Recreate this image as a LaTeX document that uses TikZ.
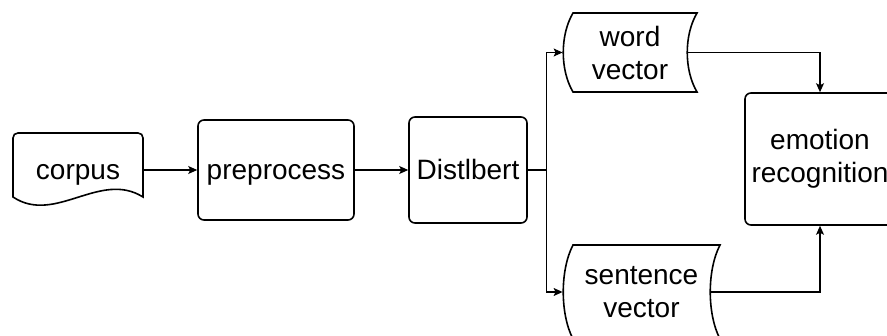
\documentclass[tikz,border=0pt]{standalone}
\usepackage{fontspec}
\setmainfont{Liberation Sans}
\usetikzlibrary{arrows.meta}

\tikzset{
	block/.style = {draw, thick, rounded corners=3pt, inner sep=0pt, align=center},
	plain/.style = {inner sep=0pt, align=center},
	oneline/.style = {text height=10pt, text depth=0pt},
	outline/.style = {draw, thick},
	link/.style = {-{Stealth[length=4.5pt,width=4pt,inset=1pt]}, line width=0.6pt},
}

\begin{document}
\begin{tikzpicture}[x=0.5pt, y=-0.5pt, font=\fontsize{14}{16.5}\selectfont]
			\useasboundingbox (0,0) rectangle (887,336);
			\clip (0,0) rectangle (887,336);
			
			% corpus (document)
			\draw[outline] (13,197) -- (13,138) .. controls (13,135) and (15,133) .. (18,133)
				-- (138,133) .. controls (141,133) and (143,135) .. (143,138)
				-- (143,197) .. controls (100,170) and (55,225) .. (13,197) -- cycle;
			\node[plain, oneline, minimum width=65pt, minimum height=37pt] (corpus) at (78,170) {corpus};
			
			\node[block, oneline, minimum width=78pt, minimum height=50pt] (prep) at (276,170) {preprocess};
			\node[block, oneline, minimum width=59pt, minimum height=53pt] (bert) at (468,170) {Distlbert};
			
			% stored data shapes
			\draw[outline] (573,13) -- (697,13) .. controls (684,35) and (684,70) .. (697,92)
				-- (573,92) .. controls (560,70) and (560,35) .. (573,13) -- cycle;
			\node[plain, minimum width=67pt, minimum height=39.5pt] (word) at (630,52.5) {word\\vector};
			
			\draw[outline] (573,245) -- (720,245) .. controls (707,270) and (707,314) .. (720,339)
				-- (573,339) .. controls (560,314) and (560,270) .. (573,245) -- cycle;
			\node[plain, minimum width=78.5pt, minimum height=47pt] (sent) at (641.5,292) {sentence\\vector};
			
			\node[block, minimum width=75pt, minimum height=66pt] (emo) at (820,159) {emotion\\recognition};
			
			% connectors
			\coordinate (split) at ([xshift=9.5pt]bert.east);
			\draw[link] (corpus.east) -- (prep.west);
			\draw[link] (prep.east) -- (bert.west);
			\draw[line width=0.6pt] (bert.east) -- (split);
			\draw[link] (split) |- (word.west);
			\draw[link] (split) |- (sent.west);
			\draw[link] ([xshift=-5pt]word.east) -| (emo.north);
			\draw[link] ([xshift=-5pt]sent.east) -| (emo.south);
		\end{tikzpicture}
\end{document}
